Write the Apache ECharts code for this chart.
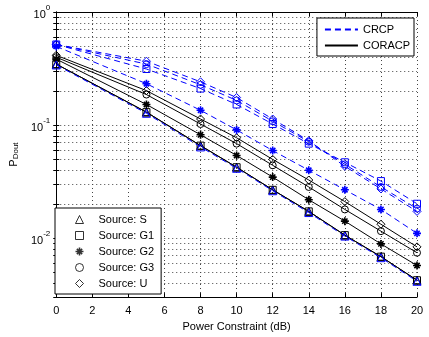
<html lang="en">
<head>
  <meta charset="UTF-8">
  <title>P_Dout vs power constraint</title>
  <style>
    html, body { margin: 0; padding: 0; background: #fff; }
    #chart { width: 429px; height: 337px; }
  </style>
</head>
<body>
  <div id="chart"></div>
  <script src="https://cdn.jsdelivr.net/npm/echarts@6/dist/echarts.min.js"></script>
  <script>
    // power constraint (dB) at the plotted markers
    var snr = [0, 5, 8, 10, 12, 14, 16, 18, 20]

    // CRCP (blue dashed)
    var crcpS  = [0.340, 0.127, 0.0640, 0.0414, 0.0262, 0.0168, 0.0104, 0.00670, 0.00414]
    var crcpG1 = [0.516, 0.313, 0.210, 0.152, 0.102, 0.0684, 0.0468, 0.0319, 0.0201]
    var crcpG2 = [0.496, 0.232, 0.135, 0.0905, 0.0594, 0.0398, 0.0267, 0.0179, 0.0110]
    var crcpG3 = [0.516, 0.346, 0.227, 0.165, 0.108, 0.0711, 0.0449, 0.0283, 0.0182]
    var crcpU  = [0.516, 0.367, 0.241, 0.175, 0.113, 0.0726, 0.0431, 0.0272, 0.0172]

    // CORACP (black solid)
    var coracpS  = [0.346, 0.130, 0.0657, 0.0423, 0.0267, 0.0172, 0.0106, 0.00684, 0.00423]
    var coracpG1 = [0.346, 0.130, 0.0657, 0.0423, 0.0267, 0.0172, 0.0106, 0.00684, 0.00423]
    var coracpG2 = [0.383, 0.152, 0.0819, 0.0538, 0.0346, 0.0218, 0.0141, 0.00887, 0.00571]
    var coracpG3 = [0.398, 0.186, 0.102, 0.0684, 0.0440, 0.0283, 0.0179, 0.0115, 0.00741]
    var coracpU  = [0.414, 0.2015, 0.113, 0.0771, 0.0496, 0.0326, 0.0210, 0.01324, 0.00835]

    // y axis ticks (log, with minor steps) and labelled decades
    var yTickValues = [0.003, 0.004, 0.005, 0.006, 0.007, 0.008, 0.009,
      0.01, 0.02, 0.03, 0.04, 0.05, 0.06, 0.07, 0.08, 0.09,
      0.1, 0.2, 0.3, 0.4, 0.5, 0.6, 0.7, 0.8, 0.9, 1]
    var yLabelValues = [0.01, 0.1, 1]

    var schemes = ['CRCP', 'CORACP']
    var sources = ['Source: S', 'Source: G1', 'Source: G2', 'Source: G3', 'Source: U']

    var FONT = 'Liberation Sans'
    var BLUE = '#0000ff'
    var asterisk = 'path://M4,0H6V10H4Z M0,4H10V6H0Z M1,2.4L2.4,1L9,7.6L7.6,9Z M7.6,1L9,2.4L2.4,9L1,7.6Z'
    var symbols = ['triangle', 'rect', asterisk, 'circle', 'diamond']
    var symbolSizes = [8, 7, 8, 7, 8]

    var pairs = function (ys) {
      return snr.map(function (x, i) { return [x, ys[i]] })
    }

    var markerStyle = function (idx, color) {
      if (idx === 2) return { color: color, borderWidth: 0 }
      return { color: 'rgba(0,0,0,0)', borderColor: color, borderWidth: 1 }
    }

    var series = []

    // legend-only series
    series.push({ name: 'CRCP', type: 'line', data: [], symbol: 'none',
      lineStyle: { color: BLUE, width: 1, type: [6, 4] },
      itemStyle: { color: 'rgba(0,0,0,0)', borderWidth: 0 } })
    series.push({ name: 'CORACP', type: 'line', data: [], symbol: 'none',
      lineStyle: { color: '#000', width: 1 },
      itemStyle: { color: 'rgba(0,0,0,0)', borderWidth: 0 } })
    sources.forEach(function (name, i) {
      series.push({ name: name, type: 'scatter', data: [], symbol: symbols[i],
        itemStyle: markerStyle(i, '#000') })
    })

    var coracp = [coracpS, coracpG1, coracpG2, coracpG3, coracpU]
    var crcp = [crcpS, crcpG1, crcpG2, crcpG3, crcpU]

    coracp.forEach(function (ys, i) {
      series.push({
        name: 'CORACP ' + sources[i], type: 'line', data: pairs(ys),
        symbol: symbols[i], symbolSize: symbolSizes[i], showAllSymbol: true,
        lineStyle: { color: '#000', width: 1 },
        itemStyle: markerStyle(i, '#000'),
        emphasis: { disabled: true }, z: 2
      })
    })
    crcp.forEach(function (ys, i) {
      series.push({
        name: 'CRCP ' + sources[i], type: 'line', data: pairs(ys),
        symbol: symbols[i], symbolSize: symbolSizes[i], showAllSymbol: true,
        lineStyle: { color: BLUE, width: 1, type: [6, 4] },
        itemStyle: markerStyle(i, BLUE),
        emphasis: { disabled: true }, z: 3
      })
    })

    var gridLine = { show: true, lineStyle: { color: '#444', width: 1, type: [1, 3] } }

    var option = {
      animation: false,
      backgroundColor: '#fff',
      textStyle: { fontFamily: FONT },
      grid: { left: 48, right: 12, top: 12, bottom: 35, show: false },
      legend: [
        {
          data: schemes, orient: 'vertical', right: 15, top: 18,
          padding: [6, 4, 5, 7], itemWidth: 33, itemHeight: 10, itemGap: 5,
          borderColor: '#000', borderWidth: 1, borderRadius: 0, backgroundColor: '#fff',
          textStyle: { fontFamily: FONT, fontSize: 11, color: '#000' },
          selectedMode: false
        },
        {
          data: sources, orient: 'vertical', left: 55, top: 208,
          padding: [6, 7, 5, 20], itemWidth: 8, itemHeight: 8, itemGap: 5,
          borderColor: '#000', borderWidth: 1, borderRadius: 0, backgroundColor: '#fff',
          itemStyle: { borderWidth: 1 },
          textStyle: { fontFamily: FONT, fontSize: 11, color: '#000', padding: [0, 0, 0, 10] },
          selectedMode: false
        }
      ],
      xAxis: [
        {
          type: 'value', min: 0, max: 20, interval: 2,
          name: 'Power Constraint (dB)', nameLocation: 'middle', nameGap: 22,
          nameTextStyle: { fontFamily: FONT, fontSize: 11, color: '#000' },
          axisLine: { show: true, lineStyle: { color: '#000', width: 1 } },
          axisTick: { show: true, inside: true, length: 4, lineStyle: { color: '#000' } },
          axisLabel: { fontFamily: FONT, fontSize: 11, color: '#000', margin: 8 },
          splitLine: gridLine
        },
        {
          type: 'value', min: 0, max: 20, interval: 2, position: 'top',
          axisLine: { show: true, lineStyle: { color: '#000', width: 1 } },
          axisTick: { show: true, inside: true, length: 4, lineStyle: { color: '#000' } },
          axisLabel: { show: false },
          splitLine: { show: false }
        }
      ],
      yAxis: [
        {
          type: 'log', logBase: 10, min: 0.003, max: 1,
          name: 'P{s|Dout}', nameLocation: 'middle', nameGap: 32, nameRotate: 90,
          nameTextStyle: {
            fontFamily: FONT, fontSize: 11, color: '#000',
            rich: {
              s: { fontFamily: FONT, fontSize: 8, color: '#000', padding: [5, 0, 0, 0] }
            }
          },
          axisLine: { show: true, lineStyle: { color: '#000', width: 1 } },
          axisTick: { show: true, inside: true, length: 3, customValues: yTickValues,
            lineStyle: { color: '#000' } },
          axisLabel: {
            customValues: yLabelValues, margin: 6, color: '#000',
            formatter: function (v) {
              var e = Math.round(Math.log(v) / Math.LN10)
              return '{b|10}{s|' + e + '}'
            },
            rich: {
              b: { fontFamily: FONT, fontSize: 11, color: '#000', lineHeight: 16, verticalAlign: 'bottom' },
              s: { fontFamily: FONT, fontSize: 8, color: '#000', lineHeight: 8, verticalAlign: 'top' }
            }
          },
          splitLine: gridLine
        },
        {
          type: 'log', logBase: 10, min: 0.003, max: 1, position: 'right',
          axisLine: { show: true, lineStyle: { color: '#000', width: 1 } },
          axisTick: { show: true, inside: true, length: 3, customValues: yTickValues,
            lineStyle: { color: '#000' } },
          axisLabel: { show: false },
          splitLine: { show: false }
        }
      ],
      series: series
    }

    var chart = echarts.init(document.getElementById('chart'), null, { renderer: 'canvas' })
    chart.setOption(option)
  </script>
</body>
</html>
